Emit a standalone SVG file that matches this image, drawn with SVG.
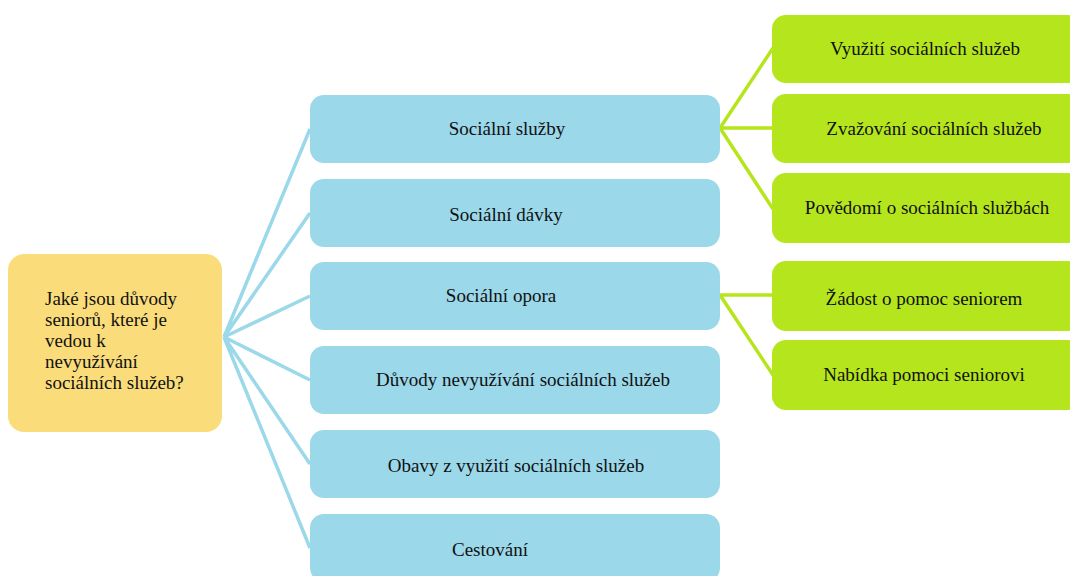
<svg xmlns="http://www.w3.org/2000/svg" width="1070" height="576" viewBox="0 0 1070 576">
<style>
text{font-family:"Liberation Serif","Times New Roman",serif;font-size:19px;fill:#111}
.c{text-anchor:middle}
.root{fill:#FADD7A}
.blue{fill:#9BD8E9}
.green{fill:#B5E61D}
.cb{stroke:#9BD8E9;stroke-width:3.5;fill:none}
.cg{stroke:#B5E61D;stroke-width:3.5;fill:none}
</style>
<rect width="1070" height="576" fill="#fff"/>
<g id="connectors">
<path class="cb" d="M224 337L310 129M224 337L310 213M224 337L310 296M224 337L310 380M224 337L310 464M224 337L310 548"/>
<path class="cg" d="M720 128L773 48M720 128L773 128M720 128L773 209M720 295L773 295M720 295L773 375"/>
</g>
<g id="root"><rect class="root" x="8" y="254" width="214" height="178" rx="16"/>
<text x="45" y="305">Jaké jsou důvody</text><text x="45" y="326">seniorů, které je</text><text x="45" y="347">vedou k</text><text x="45" y="368">nevyužívání</text><text x="45" y="389">sociálních služeb?</text></g>
<g id="b1"><rect class="blue" x="310" y="95" width="410" height="68" rx="14"/><text class="c" x="507" y="135">Sociální služby</text></g>
<g id="b2"><rect class="blue" x="310" y="179" width="410" height="68" rx="14"/><text class="c" x="506" y="221">Sociální dávky</text></g>
<g id="b3"><rect class="blue" x="310" y="262" width="410" height="68" rx="14"/><text class="c" x="501" y="302">Sociální opora</text></g>
<g id="b4"><rect class="blue" x="310" y="346" width="410" height="68" rx="14"/><text class="c" x="523" y="386">Důvody nevyužívání sociálních služeb</text></g>
<g id="b5"><rect class="blue" x="310" y="430" width="410" height="68" rx="14"/><text class="c" x="516" y="472">Obavy z využití sociálních služeb</text></g>
<g id="b6"><rect class="blue" x="310" y="514" width="410" height="68" rx="14"/><text class="c" x="490" y="556">Cestování</text></g>
<g id="g1"><rect class="green" x="772" y="15" width="310" height="68" rx="14"/><text class="c" x="925" y="55">Využití sociálních služeb</text></g>
<g id="g2"><rect class="green" x="772" y="94" width="310" height="69" rx="14"/><text class="c" x="934" y="135">Zvažování sociálních služeb</text></g>
<g id="g3"><rect class="green" x="772" y="173" width="310" height="70" rx="14"/><text class="c" x="927" y="214">Povědomí o sociálních službách</text></g>
<g id="g4"><rect class="green" x="772" y="261" width="310" height="70" rx="14"/><text class="c" x="924" y="305">Žádost o pomoc seniorem</text></g>
<g id="g5"><rect class="green" x="772" y="340" width="310" height="70" rx="14"/><text class="c" x="924" y="381">Nabídka pomoci seniorovi</text></g>
</svg>
